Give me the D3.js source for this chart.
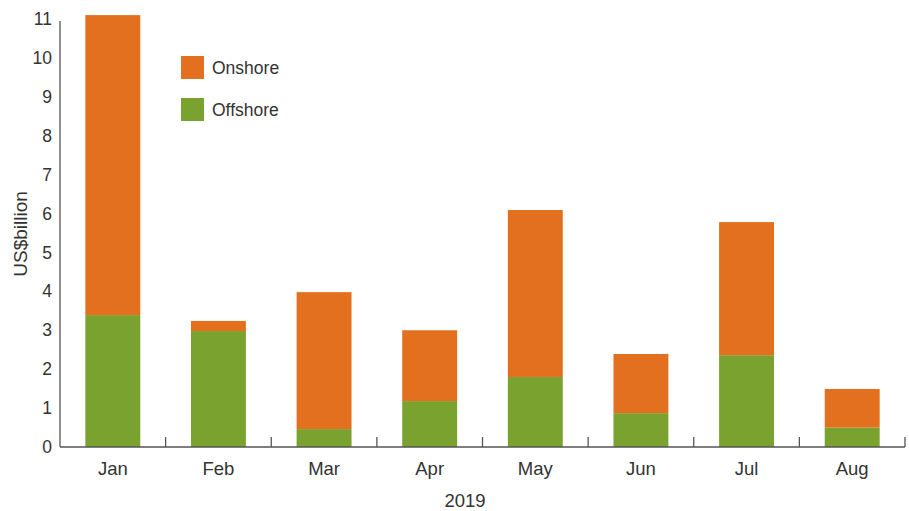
<!DOCTYPE html>
<html>
<head>
<meta charset="utf-8">
<script src="https://cdn.jsdelivr.net/npm/d3@7/dist/d3.min.js"></script>
<style>
  body { margin: 0; background: #fff; }
  text { font-family: "Liberation Sans", Arial, sans-serif; fill: #333; }
</style>
</head>
<body>
<div id="container"></div>
<script>
// Data
const months = ["Jan", "Feb", "Mar", "Apr", "May", "Jun", "Jul", "Aug"];
const offshore = [3.39, 2.98, 0.46, 1.18, 1.8, 0.87, 2.36, 0.5];
const onshore = [7.71, 0.26, 3.52, 1.82, 4.29, 1.52, 3.42, 0.99];
const yTicks = [0, 1, 2, 3, 4, 5, 6, 7, 8, 9, 10, 11];
const seriesNames = ["Offshore", "Onshore"];
const colors = { Offshore: "#79a22f", Onshore: "#e3701e" };

const width = 909, height = 511;
const margin = { top: 19, right: 4, bottom: 64, left: 60 };

const svg = d3.select("#container")
  .append("svg")
  .attr("width", width)
  .attr("height", height);

const x = d3.scaleBand()
  .domain(months)
  .range([margin.left, width - margin.right])
  .paddingInner(0.48)
  .paddingOuter(0.24);

const y = d3.scaleLinear()
  .domain([0, 11])
  .range([height - margin.bottom, margin.top]);

// stack table
const table = months.map((m, i) => ({ month: m, Offshore: offshore[i], Onshore: onshore[i] }));
const stacked = d3.stack().keys(seriesNames)(table);

svg.append("g")
  .selectAll("g")
  .data(stacked)
  .join("g")
  .attr("fill", d => colors[d.key])
  .selectAll("rect")
  .data(d => d)
  .join("rect")
  .attr("x", d => x(d.data.month))
  .attr("y", d => y(d[1]))
  .attr("width", x.bandwidth())
  .attr("height", d => y(d[0]) - y(d[1]));

// y axis
const yAxis = svg.append("g")
  .attr("transform", "translate(" + margin.left + ",0)")
  .call(d3.axisLeft(y).tickValues(yTicks).tickSize(0).tickPadding(8));
yAxis.select(".domain").attr("stroke", "#555").attr("stroke-width", 1.3)
  .attr("d", "M0," + (y(11) + 2) + "V" + y(0));
yAxis.selectAll("text").style("font-size", "17.5px").attr("fill", "#333");

// x axis with boundary ticks pointing up
const x0 = margin.left, x1 = width - margin.right;
const base = y(0);
const xg = svg.append("g");
xg.append("line")
  .attr("x1", x0).attr("x2", x1)
  .attr("y1", base).attr("y2", base)
  .attr("stroke", "#555").attr("stroke-width", 1.5);
const bounds = months.map(m => x(m) + x.bandwidth() + x.step() * x.paddingInner() / 2);
xg.selectAll("line.tick")
  .data(bounds)
  .join("line")
  .attr("class", "tick")
  .attr("x1", d => d).attr("x2", d => d)
  .attr("y1", base).attr("y2", base - 10)
  .attr("stroke", "#555").attr("stroke-width", 1.3);
xg.selectAll("text")
  .data(months)
  .join("text")
  .attr("x", d => x(d) + x.bandwidth() / 2)
  .attr("y", base + 28)
  .attr("text-anchor", "middle")
  .style("font-size", "18.5px")
  .text(d => d);

// axis titles
svg.append("text")
  .attr("transform", "translate(27,234) rotate(-90)")
  .attr("text-anchor", "middle")
  .style("font-size", "19px")
  .text("US$billion");

svg.append("text")
  .attr("x", 465)
  .attr("y", 507)
  .attr("text-anchor", "middle")
  .style("font-size", "18.5px")
  .text("2019");

// legend
const legend = svg.append("g").attr("transform", "translate(181,56)");
["Onshore", "Offshore"].forEach((k, i) => {
  const g = legend.append("g").attr("transform", "translate(0," + i * 42 + ")");
  g.append("rect").attr("width", 23).attr("height", 23).attr("fill", colors[k]);
  g.append("text").attr("x", 31).attr("y", 18).style("font-size", "17.5px").text(k);
});
</script>
</body>
</html>
